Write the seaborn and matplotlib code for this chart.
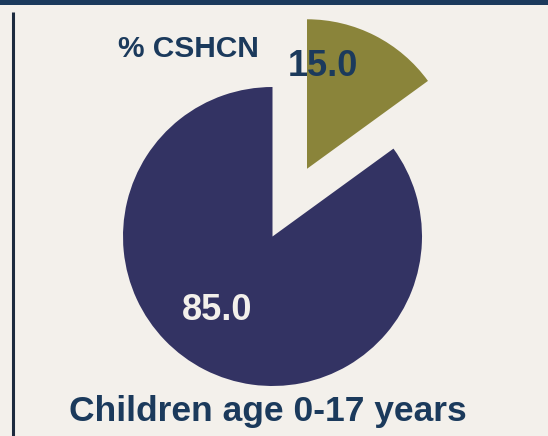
import matplotlib
matplotlib.use("Agg")
import matplotlib.pyplot as plt
import seaborn as sns
from matplotlib.patches import Rectangle

# ---- data ----
categories = ["CSHCN", "Non-CSHCN"]
values = [15.0, 85.0]
value_labels = [f"{v:.1f}" for v in values]
title_text = "% CSHCN"
xlabel_text = "Children age 0-17 years"

# ---- style ----
BG = "#f3f0eb"
NAVY = "#333363"
OLIVE = "#8a843a"
TEXT = "#1b3a5c"
sns.set_theme(style="white")
plt.rcParams["font.family"] = ["Liberation Sans", "DejaVu Sans"]

W, H = 548, 436
fig = plt.figure(figsize=(W / 100, H / 100), dpi=100, facecolor=BG)
ax = fig.add_axes([0, 0, 1, 1])
ax.set_facecolor(BG)

cx, cy = 272.5, H - 236.5
R = 149.5
wedges, _ = ax.pie(values, colors=[OLIVE, NAVY], startangle=90, counterclock=False,
                   radius=R, center=(cx, cy), explode=[76, 0],
                   wedgeprops=dict(linewidth=0))
ax.set_xlim(0, W)
ax.set_ylim(0, H)
ax.set_aspect("equal", adjustable="box")
ax.axis("off")

# value labels
ax.text(323, H - 66, value_labels[0], ha="center", va="center", fontsize=26,
        fontweight="bold", color=TEXT)
ax.text(217, H - 311, value_labels[1], ha="center", va="center", fontsize=26,
        fontweight="bold", color=BG)

# title & bottom label
ax.text(188, H - 49, title_text, ha="center", va="center", fontsize=21.5,
        fontweight="bold", color=TEXT)
ax.text(268, H - 412, xlabel_text, ha="center", va="center", fontsize=25.5,
        fontweight="bold", color=TEXT)

# decorations: top bar and left rule
ax.add_patch(Rectangle((0, H - 5), W, 5, color=TEXT, lw=0, clip_on=False))
ax.plot([12.5, 12.5], [0, H - 12], color="#1c2a3e", lw=2.2, solid_capstyle="butt")

fig.savefig("out.png", dpi=100, facecolor=BG)
